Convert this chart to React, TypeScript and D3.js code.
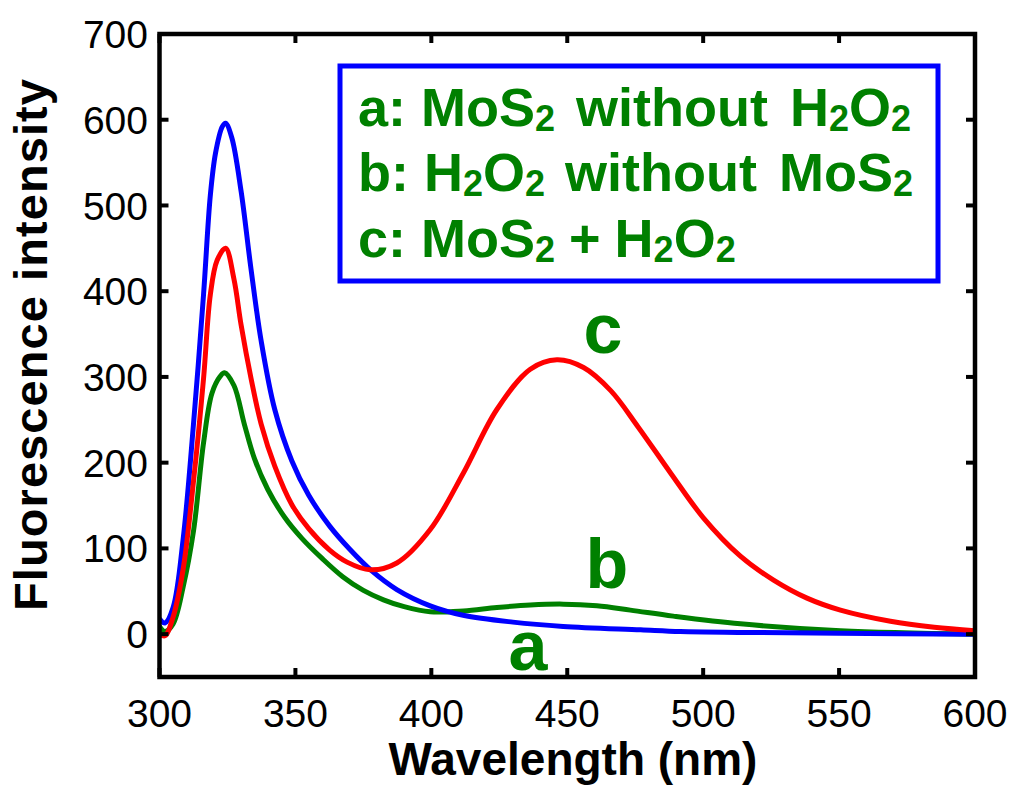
import React from "react";
import * as d3 from "d3";

const wavelengthsA = [300, 302, 305, 308.7, 312.5, 316.2, 318.7, 320.6, 323.1, 324.3, 326.6, 330, 333.7, 337.4, 342.4, 348.7, 354.9, 362.6, 370, 378, 387.3, 399.6, 411.7, 430, 448.5, 477, 491.6, 514, 550, 600];
const intensityA = [18, 13, 31, 111, 245, 396, 512, 561, 592, 596, 579, 517, 425, 342, 262, 202, 162, 126, 99, 74, 52, 33, 22, 14, 9, 5, 3, 2, 1, 0];

const wavelengthsB = [300, 302, 305, 308.7, 312.5, 316.2, 319.3, 322.4, 323.9, 327.4, 331.2, 334.9, 339.8, 346.1, 352.3, 359.9, 367.4, 375, 382.4, 390, 399.6, 411.8, 424.1, 436.4, 448.6, 460.9, 473.2, 489, 513.7, 550.5, 600];
const intensityB = [9, 3, 12, 55, 120, 223, 281, 301, 305, 290, 245, 205, 169, 136, 112, 88, 67, 51, 40, 32, 26, 27, 31, 34, 35, 33, 28, 21, 12, 4, 0];

const wavelengthsC = [300, 302, 305, 308.7, 312.5, 316.2, 318.7, 321.2, 324.3, 327.4, 330, 333.7, 337.4, 342.4, 348.7, 354.9, 362.6, 369, 377.5, 387.3, 399.6, 411.8, 424.1, 436.4, 446.2, 456, 466, 476, 488, 500, 513.7, 525.9, 538.2, 550.5, 568.9, 585, 600];
const intensityC = [0, -2, 20, 76, 178, 298, 396, 436, 450, 414, 361, 298, 245, 196, 151, 123, 98, 84, 75, 83, 122, 188, 262, 309, 320, 311, 284, 242, 188, 136, 91, 63, 42, 28, 15, 8, 4];

const xTicks = [300, 350, 400, 450, 500, 550, 600];
const yTicks = [0, 100, 200, 300, 400, 500, 600, 700];

const FONT = "'Liberation Sans', Arial, Helvetica, sans-serif";
const GREEN = "#008000";

export default function App() {
  const left = 159.5, right = 975, top = 34, bottom = 677;
  const x = d3.scaleLinear().domain([300, 600]).range([left, right]);
  const y = d3.scaleLinear().domain([-50, 700]).range([bottom, top]);

  const mk = (xs: number[], ys: number[]) =>
    d3.line<number>().x((_, i) => x(xs[i])).y((d) => y(d)).curve(d3.curveCatmullRom.alpha(0.5))(ys) || "";

  const series = [
    { xs: wavelengthsB, ys: intensityB, color: GREEN },
    { xs: wavelengthsA, ys: intensityA, color: "#0000FF" },
    { xs: wavelengthsC, ys: intensityC, color: "#FF0000" },
  ];

  const tickLen = 9;
  const sf = 36;
  const sd = 5;

  return (
    <svg width={1016} height={793} style={{ position: "absolute", left: 0, top: 0, background: "#fff" }} fontFamily={FONT}>
      <defs>
        <clipPath id="plot">
          <rect x={left} y={top} width={right - left} height={bottom - top} />
        </clipPath>
      </defs>
      <g clipPath="url(#plot)">
        {series.map((s, i) => (
          <path key={i} d={mk(s.xs, s.ys)} fill="none" stroke={s.color} strokeWidth={5} strokeLinejoin="round" />
        ))}
      </g>
      {xTicks.map((t) => (
        <g key={"x" + t}>
          <line x1={x(t)} x2={x(t)} y1={bottom} y2={bottom - tickLen} stroke="#000" strokeWidth={4} />
          <line x1={x(t)} x2={x(t)} y1={top} y2={top + tickLen} stroke="#000" strokeWidth={4} />
          <text x={x(t)} y={727} textAnchor="middle" fontSize={39}>{t}</text>
        </g>
      ))}
      {yTicks.map((t) => (
        <g key={"y" + t}>
          <line x1={left} x2={left + tickLen} y1={y(t)} y2={y(t)} stroke="#000" strokeWidth={4} />
          <line x1={right} x2={right - tickLen} y1={y(t)} y2={y(t)} stroke="#000" strokeWidth={4} />
          <text x={148} y={y(t)} dy="0.36em" textAnchor="end" fontSize={39}>{t}</text>
        </g>
      ))}
      <rect x={left} y={top} width={right - left} height={bottom - top} fill="none" stroke="#000" strokeWidth={4.5} />

      <text x={573} y={775} textAnchor="middle" fontSize={46} fontWeight="bold">Wavelength (nm)</text>
      <text transform="translate(47,345) rotate(-90)" textAnchor="middle" fontSize={47} fontWeight="bold" textLength={532} lengthAdjust="spacing">Fluorescence intensity</text>

      <text x={528} y={670} textAnchor="middle" fontSize={70} fontWeight="bold" fill={GREEN}>a</text>
      <text x={607} y={588} textAnchor="middle" fontSize={70} fontWeight="bold" fill={GREEN}>b</text>
      <text x={603} y={353} textAnchor="middle" fontSize={70} fontWeight="bold" fill={GREEN}>c</text>

      <rect x={340} y={66} width={598} height={215} fill="#fff" stroke="#0000FF" strokeWidth={5} />
      <g fill={GREEN} fontSize={54} fontWeight="bold">
        <text x={358} y={126}>
          <tspan>a: MoS</tspan>
          <tspan fontSize={sf} dy={sd}>2</tspan>
          <tspan dy={-sd} dx={21}>without</tspan>
          <tspan dx={22}>H</tspan>
          <tspan fontSize={sf} dy={sd}>2</tspan>
          <tspan dy={-sd}>O</tspan>
          <tspan fontSize={sf} dy={sd}>2</tspan>
        </text>
        <text x={358} y={191}>
          <tspan>b: H</tspan>
          <tspan fontSize={sf} dy={sd}>2</tspan>
          <tspan dy={-sd}>O</tspan>
          <tspan fontSize={sf} dy={sd}>2</tspan>
          <tspan dy={-sd} dx={20}>without</tspan>
          <tspan dx={22}>MoS</tspan>
          <tspan fontSize={sf} dy={sd}>2</tspan>
        </text>
        <text x={358} y={257}>
          <tspan>c: MoS</tspan>
          <tspan fontSize={sf} dy={sd}>2</tspan>
          <tspan dy={-sd} dx={14}>+</tspan>
          <tspan dx={14}>H</tspan>
          <tspan fontSize={sf} dy={sd}>2</tspan>
          <tspan dy={-sd}>O</tspan>
          <tspan fontSize={sf} dy={sd}>2</tspan>
        </text>
      </g>
    </svg>
  );
}
